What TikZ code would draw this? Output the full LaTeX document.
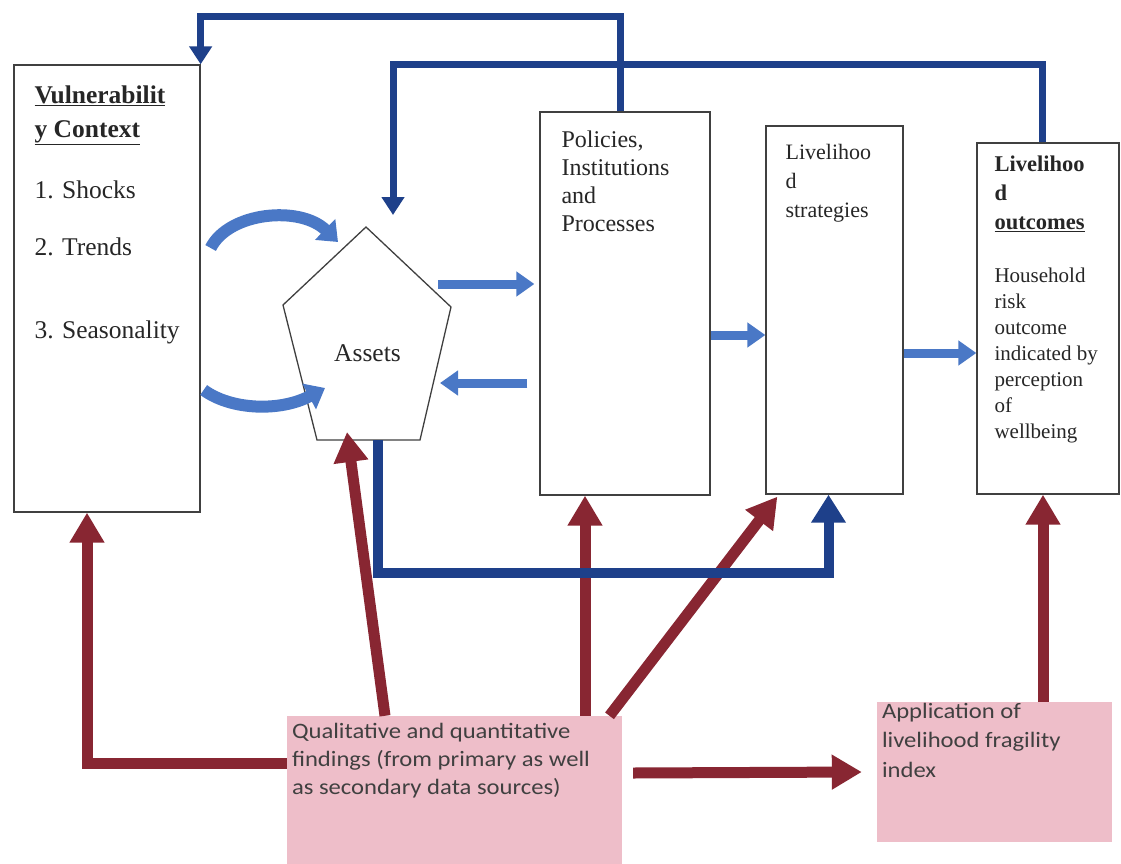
\documentclass[tikz,border=0pt]{standalone}
\usepackage{fontspec}
\setmainfont{Liberation Serif}
\newfontfamily\calfont[FakeStretch=1.12]{Carlito}
\usetikzlibrary{arrows.meta,positioning}
\definecolor{navy}{RGB}{30,64,138}
\definecolor{lightblue}{RGB}{74,120,198}
\definecolor{wine}{RGB}{136,38,50}
\definecolor{pinkfill}{RGB}{238,190,201}

\begin{document}
\begin{tikzpicture}[
  x=1pt, y=-1pt,
  box/.style={draw=black!75, line width=1.3pt, inner sep=0pt},
  pinkbox/.style={fill=pinkfill, inner sep=0pt},
  txt/.style={inner sep=0pt, align=left, text=black!85},
  ctxt/.style={inner sep=0pt, align=left, text=black!75,
    font=\calfont\fontsize{22}{28}\selectfont},
  navyarr/.style={draw=navy, line width=7pt, -{Triangle[length=18pt,width=22pt]}},
  navybig/.style={draw=navy, line width=10pt, -{Triangle[length=28pt,width=33pt]}},
  redarr/.style={draw=wine, line width=11pt, -{Triangle[length=30pt,width=33pt]}},
  blk/.style={draw=lightblue, line width=9pt, -{Triangle[length=18pt,width=24pt]}},
  curv/.style={draw=lightblue, line width=12pt, -{Triangle[length=18pt,width=28pt]}}
]
  \fill[white] (0,0) rectangle (1121,864);
  \useasboundingbox (0,0) rectangle (1121,864);

  \node[box, minimum width=186pt, minimum height=447pt] (vul) at (107,288.5) {};
  \node[box, minimum width=170pt, minimum height=383pt] (pol) at (625,303.5) {};
  \node[box, minimum width=137pt, minimum height=368pt] (str) at (834.5,310) {};
  \node[box, minimum width=142pt, minimum height=351pt] (out) at (1048,318.5) {};
  \node[pinkbox, minimum width=335pt, minimum height=148pt] (qual) at (454.5,790) {};
  \node[pinkbox, minimum width=235pt, minimum height=140pt] (app) at (994.5,772) {};

  \coordinate (atop) at (366,227);
  \coordinate (aleft) at (283,305);
  \coordinate (aright) at (451,307);
  \coordinate (abl) at (317,440);
  \coordinate (abr) at (420,440);
  \draw[box] (atop) -- (aright) -- (abr) -- (abl) -- (aleft) -- cycle;
  \node[txt, font=\fontsize{25.5}{30}\selectfont] (assets) at (367.5,353.5) {Assets};

  \coordinate (ctop) at ([shift={(-28,15)}]atop);
  \coordinate (cbot) at ([shift={(42,83)}]aleft);
  \coordinate (aintop) at ([shift={(27,-12)}]atop);
  \coordinate (abot) at ([shift={(61,0)}]abl);
  \coordinate (redtip) at ([shift={(30,-8)}]abl);

  \node[txt, font=\fontsize{25.5}{30}\selectfont, below right=21pt and 21pt of vul.north west] (vultxt)
    {\textbf{\underline{Vulnerabilit}}\\[4pt]\textbf{\underline{y Context}}\\[31pt]1. Shocks\\[27pt]2. Trends\\[53pt]3. Seasonality};
  \node[txt, font=\fontsize{24}{28}\selectfont, below right=19pt and 22pt of pol.north west] (poltxt)
    {Policies,\\Institutions\\and\\Processes};
  \node[txt, font=\fontsize{22}{29}\selectfont, below right=19pt and 20pt of str.north west] (strtxt)
    {Livelihoo\\d\\strategies};
  \node[txt, font=\bfseries\fontsize{22.5}{29}\selectfont, below right=13pt and 18pt of out.north west] (outhead)
    {Livelihoo\\d\\\underline{outcomes}};
  \node[txt, font=\fontsize{21}{26}\selectfont, below right=125pt and 18pt of out.north west] (outbody)
    {Household\\risk\\outcome\\indicated by\\perception\\of\\wellbeing};
  \node[ctxt, below right=7.5pt and 5pt of qual.north west] (qualtxt)
    {Qualitative and quantitative\\findings (from primary as well\\as secondary data sources)};
  \node[ctxt, font=\calfont\fontsize{22}{29.5}\selectfont, below right=1pt and 5pt of app.north west] (apptxt)
    {Application of\\livelihood fragility\\index};

  \draw[blk] ([shift={(-13,-23)}]aright) -- ([shift={(-5,-19.5)}]pol.west);
  \draw[blk] ([shift={(-12,79.5)}]pol.west) -- ([shift={(-11,76)}]aright);
  \draw[blk] ([shift={(0,31.5)}]pol.east) -- ([shift={(0,25)}]str.west);
  \draw[blk] ([shift={(0,43)}]str.east) -- ([shift={(0,34.5)}]out.west);
  \draw[curv] ([shift={(10,-40.5)}]vul.east) .. controls +(18,-36) and +(-38,-37) .. (ctop);
  \draw[curv] ([shift={(3,101.5)}]vul.east) .. controls +(27,20) and +(-45,24) .. (cbot);

  \draw[redarr] ([shift={(0,-27)}]qual.west) -| ([shift={(-20,0)}]vul.south);
  \draw[redarr] ([shift={(-69.5,0)}]qual.north) -- (redtip);
  \draw[redarr] ([shift={(130.5,0)}]qual.north) -- ([shift={(130.5,0)}]qual.north |- pol.south);
  \draw[redarr] ([shift={(155,0)}]qual.north) -- ([shift={(12,2)}]str.south west);
  \draw[redarr] ([shift={(11,-17)}]qual.east) -- ([shift={(-15,0)}]app.west);
  \draw[redarr] ([shift={(48.5,0)}]app.north) -- ([shift={(48.5,0)}]app.north |- out.south);

  \draw[navyarr] ([shift={(-5,0)}]pol.north) -- ++(0,-95) -| (vul.north east);
  \draw[navyarr] ([shift={(-6,0)}]out.north) -- ++(0,-78) -| (aintop);
  \draw[navybig] (abot) -- ++(0,133) -| ([shift={(-6,0)}]str.south);
\end{tikzpicture}
\end{document}
